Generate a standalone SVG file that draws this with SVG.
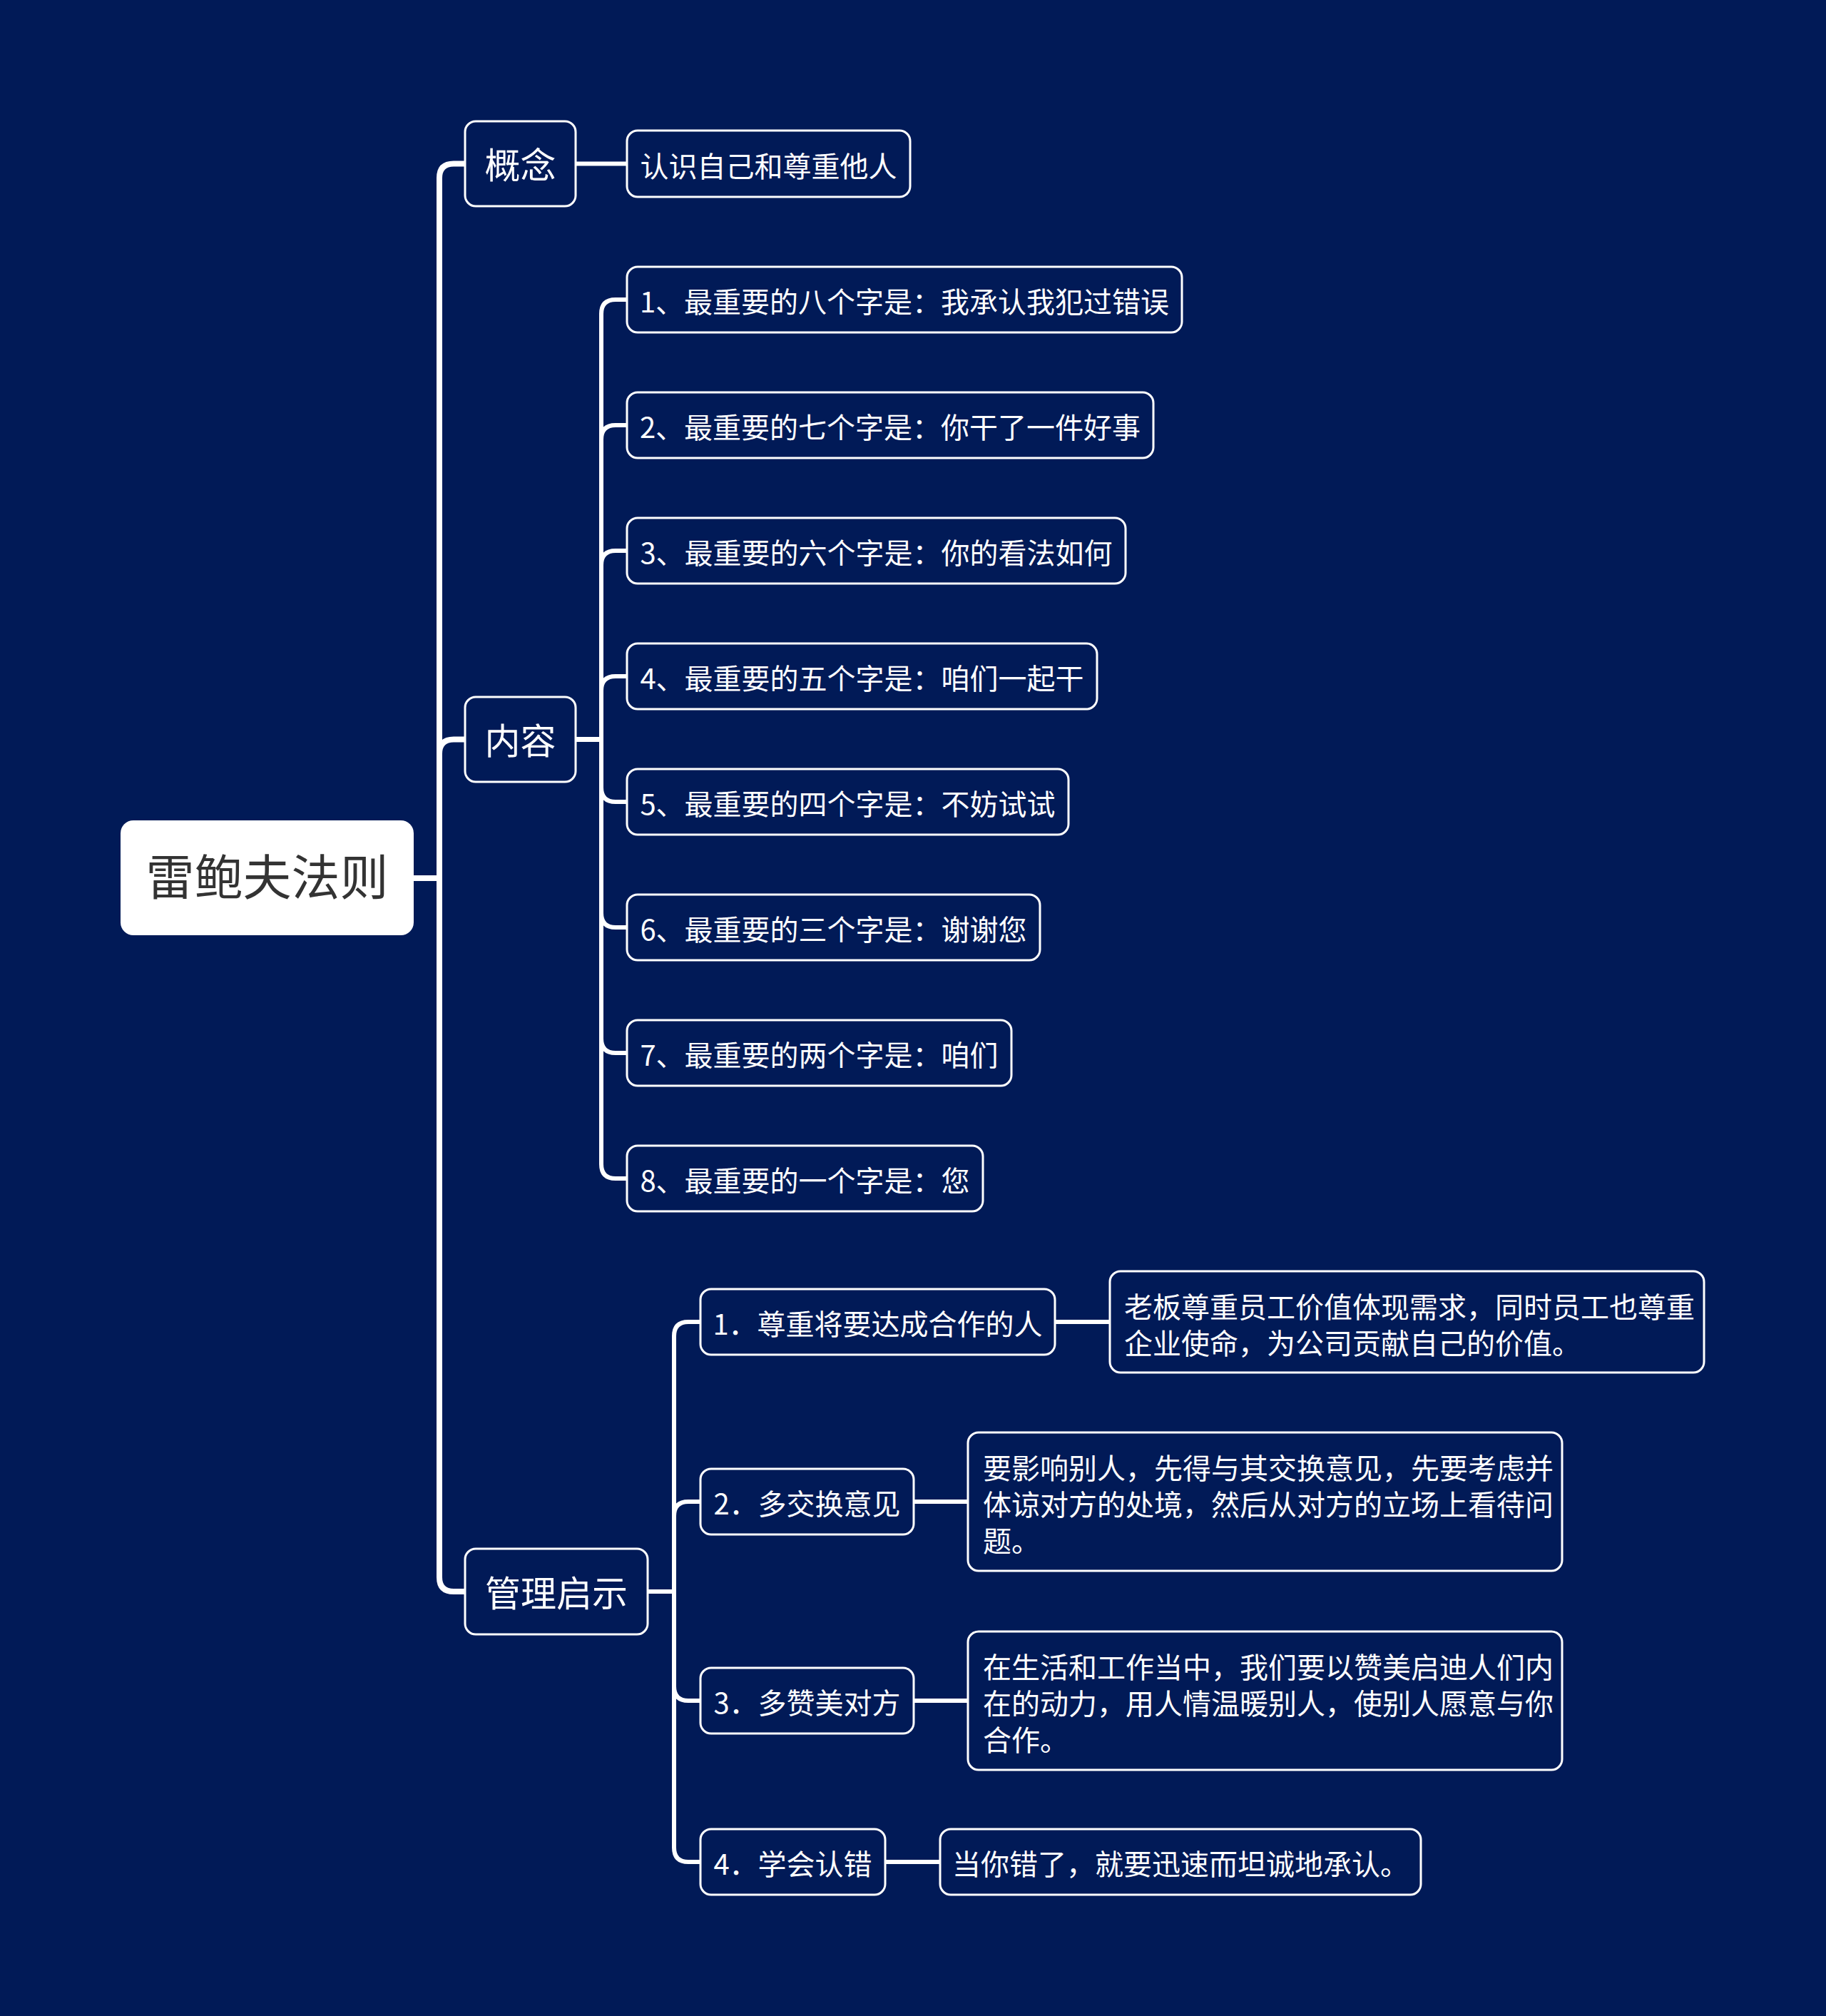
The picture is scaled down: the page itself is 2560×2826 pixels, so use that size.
<svg xmlns="http://www.w3.org/2000/svg" width="2560" height="2826" viewBox="0 0 2560 2826">
<style>
.bg{fill:#011a57}
.box{fill:#011a57;stroke:#ffffff;stroke-width:3}
.root{fill:#ffffff}
.t{font-family:"Noto Sans CJK SC","Noto Sans",sans-serif;fill:#ffffff}
.t1{font-size:50px;text-anchor:middle}
.t2{font-size:40px;text-anchor:middle}
.t3{font-size:40px}
.rt{font-family:"Noto Sans CJK SC","Noto Sans",sans-serif;font-size:68px;fill:#333333;text-anchor:middle}
.c0{fill:none;stroke:#ffffff;stroke-width:8;stroke-linejoin:round}
.c{fill:none;stroke:#ffffff;stroke-width:6;stroke-linejoin:round}
</style>
<rect class="bg" x="0" y="0" width="2560" height="2826"/>
<g id="connectors">
<path class="c0" d="M580,1231 H616 V249.5 Q616,229.5 636,229.5 H652"/>
<path class="c0" d="M580,1231 H616 V1056.5 Q616,1036.5 636,1036.5 H652"/>
<path class="c0" d="M580,1231 H616 V2211 Q616,2231 636,2231 H652"/>
<path class="c" d="M807,229.5 H879"/>
<path class="c" d="M807,1036.5 H843 V440 Q843,420 863,420 H879"/>
<path class="c" d="M807,1036.5 H843 V616 Q843,596 863,596 H879"/>
<path class="c" d="M807,1036.5 H843 V792 Q843,772 863,772 H879"/>
<path class="c" d="M807,1036.5 H843 V968 Q843,948 863,948 H879"/>
<path class="c" d="M807,1036.5 H843 V1104 Q843,1124 863,1124 H879"/>
<path class="c" d="M807,1036.5 H843 V1280 Q843,1300 863,1300 H879"/>
<path class="c" d="M807,1036.5 H843 V1456 Q843,1476 863,1476 H879"/>
<path class="c" d="M807,1036.5 H843 V1632 Q843,1652 863,1652 H879"/>
<path class="c" d="M908,2231 H945 V1873 Q945,1853 965,1853 H982"/>
<path class="c" d="M908,2231 H945 V2125 Q945,2105 965,2105 H982"/>
<path class="c" d="M908,2231 H945 V2364 Q945,2384 965,2384 H982"/>
<path class="c" d="M908,2231 H945 V2590 Q945,2610 965,2610 H982"/>
<path class="c" d="M1479,1853 H1556"/>
<path class="c" d="M1281,2105 H1357"/>
<path class="c" d="M1281,2384 H1357"/>
<path class="c" d="M1241,2610 H1318"/>
</g>
<g id="root">
<rect class="root" x="169" y="1150" width="411" height="161" rx="18"/>
<text class="rt" x="374.5" y="1255">雷鲍夫法则</text>
</g>
<g id="n-gainian">
<rect class="box" x="652" y="170" width="155" height="119" rx="15"/>
<text class="t t1" x="729.5" y="250">概念</text>
</g>
<g id="n-gainian-1">
<rect class="box" x="879" y="183" width="397" height="93" rx="15"/>
<text class="t t2" x="1077.5" y="247.5">认识自己和尊重他人</text>
</g>
<g id="n-neirong">
<rect class="box" x="652" y="977" width="155" height="119" rx="15"/>
<text class="t t1" x="729.5" y="1057">内容</text>
</g>
<g id="n-nr1">
<rect class="box" x="879" y="374" width="778" height="92" rx="15"/>
<text class="t t2" x="1268" y="438">1、最重要的八个字是：我承认我犯过错误</text>
</g>
<g id="n-nr2">
<rect class="box" x="879" y="550" width="738" height="92" rx="15"/>
<text class="t t2" x="1248" y="614">2、最重要的七个字是：你干了一件好事</text>
</g>
<g id="n-nr3">
<rect class="box" x="879" y="726" width="699" height="92" rx="15"/>
<text class="t t2" x="1228.5" y="790">3、最重要的六个字是：你的看法如何</text>
</g>
<g id="n-nr4">
<rect class="box" x="879" y="902" width="659" height="92" rx="15"/>
<text class="t t2" x="1208.5" y="966">4、最重要的五个字是：咱们一起干</text>
</g>
<g id="n-nr5">
<rect class="box" x="879" y="1078" width="619" height="92" rx="15"/>
<text class="t t2" x="1188.5" y="1142">5、最重要的四个字是：不妨试试</text>
</g>
<g id="n-nr6">
<rect class="box" x="879" y="1254" width="579" height="92" rx="15"/>
<text class="t t2" x="1168.5" y="1318">6、最重要的三个字是：谢谢您</text>
</g>
<g id="n-nr7">
<rect class="box" x="879" y="1430" width="539" height="92" rx="15"/>
<text class="t t2" x="1148.5" y="1494">7、最重要的两个字是：咱们</text>
</g>
<g id="n-nr8">
<rect class="box" x="879" y="1606" width="499" height="92" rx="15"/>
<text class="t t2" x="1128.5" y="1670">8、最重要的一个字是：您</text>
</g>
<g id="n-guanli">
<rect class="box" x="652" y="2171" width="256" height="120" rx="15"/>
<text class="t t1" x="780" y="2252">管理启示</text>
</g>
<g id="n-gl1">
<rect class="box" x="982" y="1807" width="497" height="92" rx="15"/>
<text class="t t2" x="1230.5" y="1871">1．尊重将要达成合作的人</text>
</g>
<g id="n-gl1a">
<rect class="box" x="1556" y="1782" width="833" height="142" rx="15"/>
<text class="t t3"><tspan x="1576" y="1847">老板尊重员工价值体现需求，同时员工也尊重</tspan><tspan x="1576" y="1898">企业使命，为公司贡献自己的价值。</tspan></text>
</g>
<g id="n-gl2">
<rect class="box" x="982" y="2059" width="299" height="92" rx="15"/>
<text class="t t2" x="1131.5" y="2123">2．多交换意见</text>
</g>
<g id="n-gl2a">
<rect class="box" x="1357" y="2008" width="833" height="194" rx="15"/>
<text class="t t3"><tspan x="1378" y="2073">要影响别人，先得与其交换意见，先要考虑并</tspan><tspan x="1378" y="2124">体谅对方的处境，然后从对方的立场上看待问</tspan><tspan x="1378" y="2175">题。</tspan></text>
</g>
<g id="n-gl3">
<rect class="box" x="982" y="2338" width="299" height="92" rx="15"/>
<text class="t t2" x="1131.5" y="2402">3．多赞美对方</text>
</g>
<g id="n-gl3a">
<rect class="box" x="1357" y="2287" width="833" height="194" rx="15"/>
<text class="t t3"><tspan x="1378" y="2352">在生活和工作当中，我们要以赞美启迪人们内</tspan><tspan x="1378" y="2403">在的动力，用人情温暖别人，使别人愿意与你</tspan><tspan x="1378" y="2454">合作。</tspan></text>
</g>
<g id="n-gl4">
<rect class="box" x="982" y="2564" width="259" height="92" rx="15"/>
<text class="t t2" x="1111.5" y="2628">4．学会认错</text>
</g>
<g id="n-gl4a">
<rect class="box" x="1318" y="2564" width="674" height="92" rx="15"/>
<text class="t t2" x="1655" y="2628">当你错了，就要迅速而坦诚地承认。</text>
</g>
</svg>
